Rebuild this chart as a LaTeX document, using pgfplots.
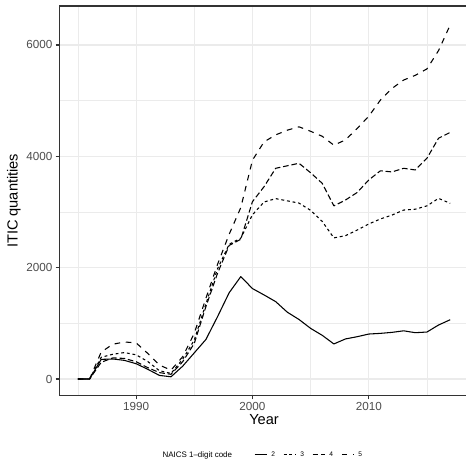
\documentclass[border=0pt]{standalone}
\usepackage{pgfplots}
\usepackage{pgfplotstable}
\pgfplotsset{compat=1.18}
\usepackage{fontspec}
\setmainfont{Liberation Sans}
\definecolor{grid92}{RGB}{235,235,235}
\definecolor{gray20}{RGB}{51,51,51}
\definecolor{gray30}{RGB}{77,77,77}

\pgfplotstableread{
year s2 s3 s4 s5
1985 0 0 0 0
1986 0 0 0 0
1987 353 390 300 485
1988 360 445 380 625
1989 335 475 370 665
1990 275 435 310 650
1991 175 315 205 460
1992 65 150 115 250
1993 40 100 85 160
1994 230 355 310 400
1995 470 700 640 820
1996 710 1350 1300 1450
1997 1120 1980 1900 2060
1998 1550 2420 2400 2600
1999 1840 2530 2510 3080
2000 1625 2950 3185 3930
2001 1510 3180 3455 4260
2002 1390 3240 3785 4385
2003 1200 3200 3830 4470
2004 1070 3160 3875 4530
2005 910 3030 3705 4450
2006 785 2830 3515 4360
2007 630 2535 3110 4200
2008 720 2575 3215 4295
2009 760 2675 3350 4500
2010 808 2785 3575 4720
2011 820 2875 3740 5010
2012 838 2945 3720 5220
2013 866 3035 3785 5370
2014 832 3050 3755 5455
2015 844 3110 3965 5570
2016 970 3245 4325 5900
2017 1065 3155 4430 6360
}\datatable

\begin{document}
\begin{tikzpicture}
\begin{axis}[
  scale only axis,
  width=307.1bp, height=292.3bp,
  xmin=1983.4, xmax=2018.6,
  ymin=-300, ymax=6700,
  xtick={1990,2000,2010},
  ytick={0,2000,4000,6000},
  minor xtick={1985,1995,2005,2015},
  minor ytick={1000,3000,5000},
  grid=both,
  major grid style={draw=grid92, line width=0.8bp},
  minor grid style={draw=grid92, line width=0.4bp},
  tick align=outside,
  major tick length=2.75bp,
  minor tick length=0pt,
  tick style={draw=gray20, line width=0.8bp},
  axis line style={draw=gray20, line width=0.8bp},
  xtick pos=lower, ytick pos=left,
  /pgf/number format/1000 sep={},
  /pgf/number format/assume math mode=true,
  ticklabel style={font=\fontsize{8.8}{10}\selectfont, text=gray30},
  xticklabel style={anchor=north, inner sep=0pt, yshift=-2.2bp},
  yticklabel style={anchor=east, inner sep=0pt, xshift=-2.2bp},
  legend columns=-1,
  legend style={draw=none, fill=none, at={(rel axis cs:0.4754,-0.152)}, anchor=west,
    font=\fontsize{5}{6}\selectfont, inner sep=0pt,
    cells={anchor=west, inner sep=0pt},
    /tikz/every odd column/.append style={column sep=0.65bp},
    /tikz/every even column/.append style={column sep=4.15bp}},
  legend image code/.code={\draw[#1, line width=0.7bp] (0bp,0bp) -- (9.5bp,0bp);},
  every axis plot/.append style={black, line width=0.8bp, line cap=butt, line join=round},
]
\addplot[solid] table[x=year, y=s2] {\datatable};
\addlegendentry{2}
\addplot[dash pattern=on 2.13bp off 2.13bp] table[x=year, y=s3] {\datatable};
\addlegendentry{3}
\addplot[dash pattern=on 4.26bp off 2.13bp] table[x=year, y=s4] {\datatable};
\addlegendentry{4}
\addplot[dash pattern=on 4.26bp off 4.26bp] table[x=year, y=s5] {\datatable};
\addlegendentry{5}
\coordinate (nw) at (rel axis cs:0,1);
\end{axis}
\node[anchor=west, inner sep=0pt, font=\fontsize{6}{7}\selectfont] at ([xshift=77.2bp, yshift=-336.75bp]nw) {NAICS 1--digit code};
\node[anchor=center, inner sep=0pt, font=\fontsize{11}{13}\selectfont] at ([xshift=153.55bp, yshift=-309.8bp]nw) {Year};
\node[anchor=center, rotate=90, inner sep=0pt, font=\fontsize{11}{13}\selectfont] at ([xshift=-34.1bp, yshift=-146.15bp]nw) {ITIC quantities};
\pgfresetboundingbox
\path[use as bounding box] ([xshift=-44.5bp, yshift=4.5bp]nw) rectangle ([xshift=305bp, yshift=-343.5bp]nw);
\end{tikzpicture}
\end{document}
